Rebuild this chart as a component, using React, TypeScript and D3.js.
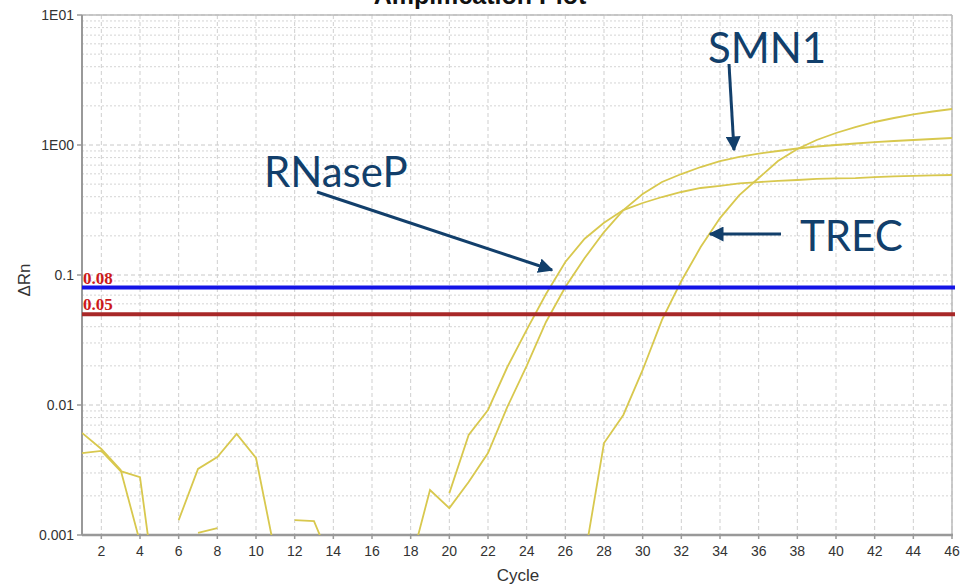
import React from 'react';
import * as d3 from 'd3';

// cycles 1..46, null = no point (negative / missing reading)
const cycles = d3.range(1, 47);

const rnaseP = [
  null, null, null, null, null, null, null, null, null, null, null,
  0.0013, 0.00128, 0.00056,
  null, null, null, null, null,
  0.0021, 0.00588, 0.00916, 0.0196, 0.0378, 0.0714, 0.126, 0.19, 0.252, 0.316,
  0.358, 0.398, 0.435, 0.467, 0.484, 0.506, 0.519, 0.529, 0.538, 0.548,
  0.553, 0.557, 0.567, 0.573, 0.578, 0.583, 0.588,
];

const smn1 = [
  0.00427, 0.00443, 0.0031, 0.00279, 0.00022, null, 0.00104, 0.00113,
  null, null, null, null, null, null, null, null, null,
  0.0006, 0.00222, 0.00161, 0.00256, 0.00427, 0.00966, 0.02, 0.0435, 0.0809,
  0.135, 0.214, 0.316, 0.42, 0.519, 0.598, 0.677, 0.753, 0.809, 0.86, 0.899,
  0.94, 0.974, 1.0, 1.027, 1.054, 1.073, 1.093, 1.112, 1.132,
];

const trec = [
  0.0061, 0.00459, 0.00316, 0.00088, null,
  0.0013, 0.00322, 0.00398, 0.00598, 0.00391, 0.00071,
  null, null, null, null, null, null, null, null, null, null, null, null, null, null, null,
  0.00067, 0.0051, 0.00838, 0.0186, 0.0451, 0.0899, 0.164, 0.274, 0.412, 0.557,
  0.753, 0.932, 1.093, 1.237, 1.375, 1.503, 1.613, 1.717, 1.81, 1.892,
];

const series = [rnaseP, smn1, trec];

const thresholds = [
  { value: 0.08, label: '0.08', color: '#1414e6' },
  { value: 0.05, label: '0.05', color: '#a82828' },
];

const xTicks = d3.range(2, 47, 2);
const yTicks = [0.001, 0.01, 0.1, 1, 10];
const yTickLabels = ['0.001', '0.01', '0.1', '1E00', '1E01'];

const W = 960;
const H = 587;
const margin = { top: 15, right: 8, bottom: 52, left: 82 };

export default function App() {
  const x = d3.scaleLinear().domain([1, 46]).range([margin.left, W - margin.right]);
  const y = d3.scaleLog().domain([0.001, 10]).range([H - margin.bottom, margin.top]);

  const line = d3.line<number | null>()
    .defined(d => d != null)
    .x((d, i) => x(cycles[i]))
    .y(d => y(d as number));

  const minorY = y.ticks().filter(t => !yTicks.some(m => Math.abs(m - t) < 1e-12));
  const [x0, x1] = x.range();
  const [y0, y1] = y.range();

  return (
    <svg width={W} height={H} style={{ position: 'absolute', left: 0, top: 0, background: '#fff' }}
      fontFamily="Arial, 'Liberation Sans', sans-serif">
      <defs>
        <clipPath id="plot">
          <rect x={x0} y={y1} width={x1 - x0} height={y0 - y1} />
        </clipPath>
        <marker id="arrow" viewBox="0 0 10 10" refX="9" refY="5" markerWidth="5" markerHeight="5"
          orient="auto" markerUnits="strokeWidth">
          <path d="M0,0 L10,5 L0,10 z" fill="#123f6b" />
        </marker>
      </defs>

      {/* title, cut off by the page top as in the source screenshot */}
      <text x={480} y={4} textAnchor="middle" fontSize={25} fontWeight="bold" fill="#111">Amplification Plot</text>

      {/* grid */}
      {minorY.map(t => (
        <line key={'my' + t} x1={x0} x2={x1} y1={y(t)} y2={y(t)} stroke="#d4d4d4" strokeDasharray="2,2" />
      ))}
      {yTicks.map(t => (
        <line key={'gy' + t} x1={x0} x2={x1} y1={y(t)} y2={y(t)} stroke="#c8c8c8" strokeDasharray="4,3" />
      ))}
      {xTicks.map(t => (
        <line key={'gx' + t} x1={x(t)} x2={x(t)} y1={y1} y2={y0} stroke="#cfcfcf" strokeDasharray="4,3" />
      ))}

      {/* frame */}
      <line x1={x0} x2={x1} y1={y1} y2={y1} stroke="#bbb" strokeWidth={1.5} />
      <line x1={x1} x2={x1} y1={y1} y2={y0} stroke="#bbb" strokeWidth={1.5} />
      <line x1={x0} x2={x0} y1={y1} y2={y0} stroke="#999" strokeWidth={2} />
      <line x1={x0} x2={x1 + 1} y1={y0} y2={y0} stroke="#999" strokeWidth={2.5} />

      {/* ticks */}
      {yTicks.map((t, i) => (
        <g key={'ty' + t}>
          <line x1={x0 - 5} x2={x0} y1={y(t)} y2={y(t)} stroke="#999" strokeWidth={1.5} />
          <text x={x0 - 8} y={y(t)} dy="0.35em" textAnchor="end" fontSize={14} fill="#333">{yTickLabels[i]}</text>
        </g>
      ))}
      {xTicks.map(t => (
        <g key={'tx' + t}>
          <line x1={x(t)} x2={x(t)} y1={y0} y2={y0 + 4} stroke="#999" strokeWidth={1.5} />
          <text x={x(t)} y={y0 + 16} dy="0.35em" textAnchor="middle" fontSize={14} fill="#333">{t}</text>
        </g>
      ))}

      <text x={518} y={581} textAnchor="middle" fontSize={17} fill="#333">Cycle</text>
      <text transform="translate(30,280) rotate(-90)" textAnchor="middle" fontSize={17} fill="#333">ΔRn</text>

      {/* amplification curves */}
      <g clipPath="url(#plot)">
        {series.map((s, i) => (
          <path key={i} d={line(s) || ''} fill="none" stroke="#d8c84e" strokeWidth={1.8} />
        ))}
      </g>

      {/* thresholds */}
      {thresholds.map(th => (
        <g key={th.label}>
          <line x1={x0} x2={x1 + 3} y1={y(th.value)} y2={y(th.value)} stroke={th.color} strokeWidth={4} />
          <text x={x0 + 1} y={y(th.value) - 4} fontFamily="'Liberation Serif', 'DejaVu Serif', serif"
            fontWeight="bold" fontSize={17} fill="#cc1a1a">{th.label}</text>
        </g>
      ))}

      {/* annotations */}
      <g fill="#123f6b" fontFamily="Lato, 'Open Sans', sans-serif" fontSize={42}>
        <text x={708} y={63}>SMN1</text>
        <text x={264} y={187}>RNaseP</text>
        <text x={800} y={251}>TREC</text>
      </g>
      <g stroke="#123f6b" strokeWidth={3} markerEnd="url(#arrow)">
        <line x1={729} y1={64} x2={734} y2={150} />
        <line x1={317} y1={192} x2={552} y2={270} />
        <line x1={781} y1={234} x2={710} y2={234} />
      </g>
    </svg>
  );
}
